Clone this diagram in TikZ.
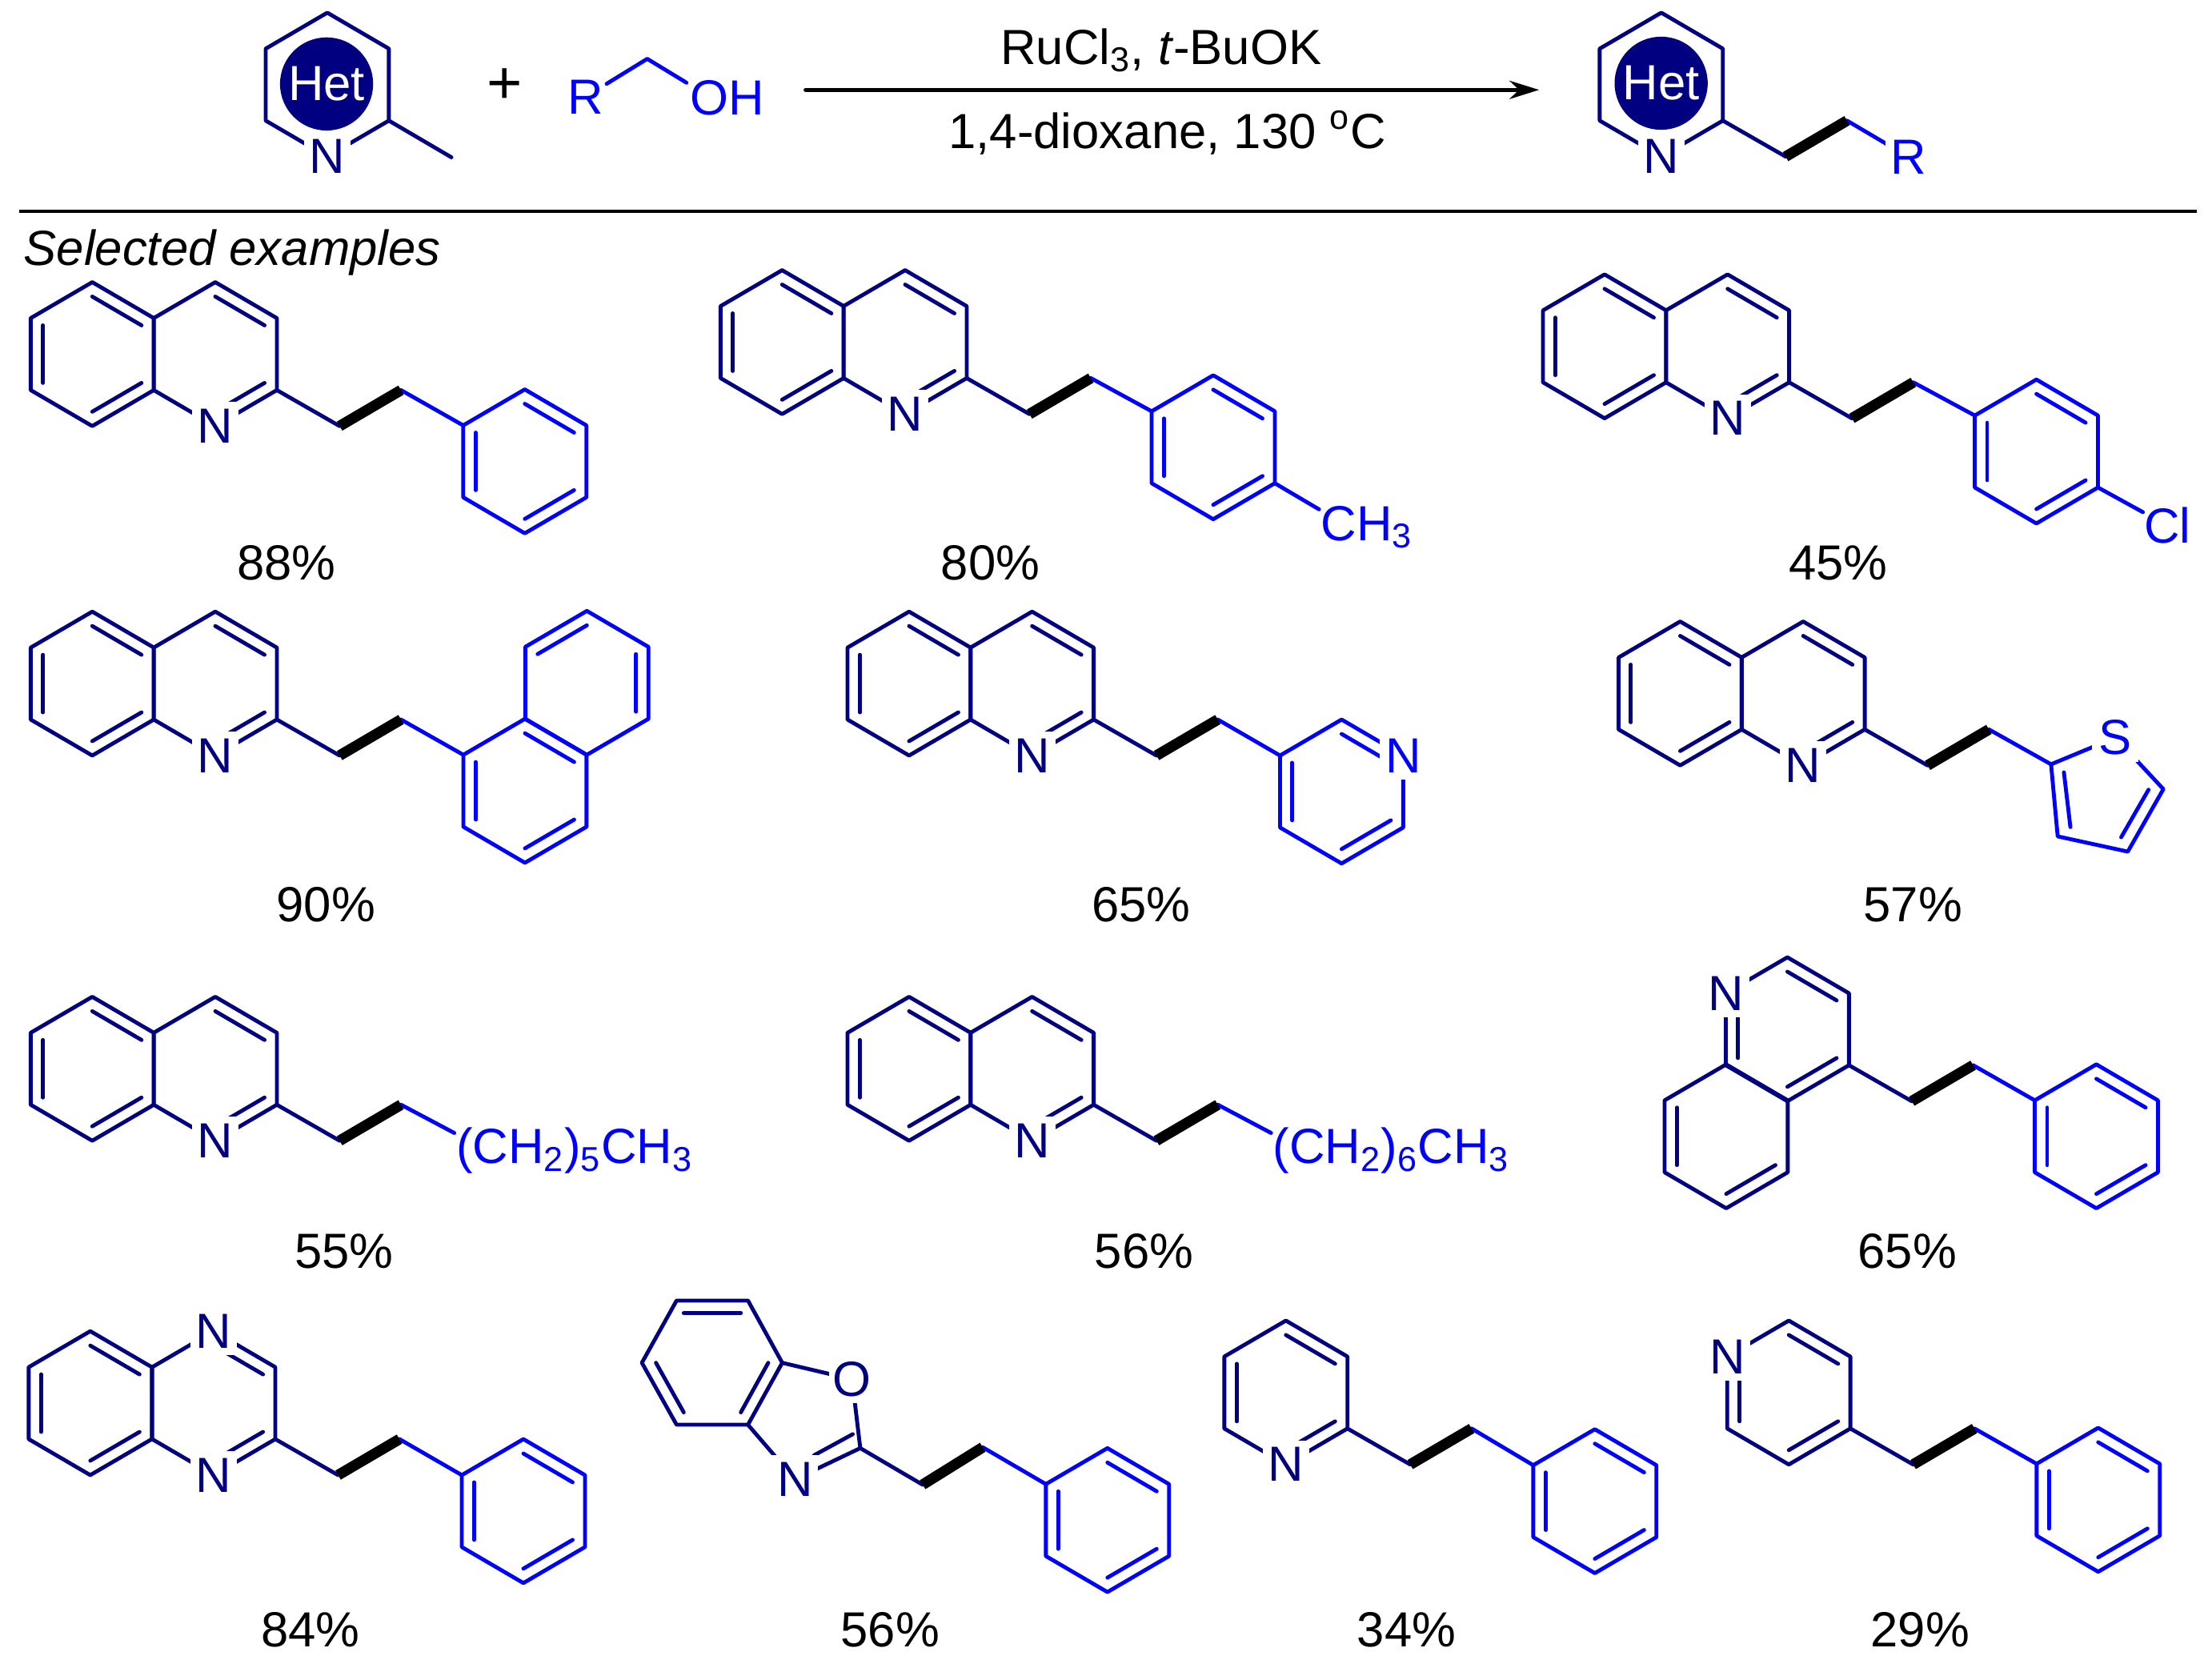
\documentclass[tikz,border=0pt]{standalone}
\usepackage{xcolor}
\usepackage{fontspec}
\usepackage{tikz}
\usetikzlibrary{arrows.meta,calc}
\setmainfont{Liberation Sans}
\definecolor{hetnavy}{RGB}{0,0,128}
\definecolor{sideblue}{RGB}{0,0,255}
\tikzset{
    atomlabel/.style={fill=white,inner sep=0pt,minimum width=6.6mm,minimum height=6.8mm},
    sidetext/.style={text=sideblue,inner sep=0pt,anchor=base west},
    yieldlabel/.style={inner sep=0pt},
    boldbond/.style={black,line width=1.5mm,line cap=butt},
    hetcircle/.style={circle,fill=hetnavy,text=white,inner sep=0pt,minimum size=13.2mm},
}
\newcommand{\hexring}[3]{
    \begin{scope}[shift={(#2)},color=#3]
    \foreach \k in {0,...,5}{
        \coordinate (#1-\k) at ({50.4*cos(-90+60*\k)},{51*sin(-90+60*\k)});
    }
    \coordinate (#1-c) at (0,0);
    \draw (#1-0) -- (#1-1) -- (#1-2) -- (#1-3) -- (#1-4) -- (#1-5) -- cycle;
    \end{scope}
}
\newcommand{\innerbond}[4]{
    \draw[#4] ($(#1)!.2!(#3)$) -- ($(#2)!.2!(#3)$);
}
\newcommand{\ring}[4]{
    \hexring{#1}{#2}{#3}
    \foreach \k/\n in {#4}{
        \innerbond{#1-\k}{#1-\n}{#1-c}{#3}
    }
}
\newcommand{\quinoline}[2]{
    \begin{scope}[shift={(#2)}]
    \ring{#1l}{-43.6,25.5}{hetnavy}{0/1,2/3,4/5}
    \ring{#1r}{43.6,25.5}{hetnavy}{0/1,2/3}
    \node[atomlabel,text=hetnavy] (#1N) at (#1r-3) {N};
    \end{scope}
}
\newcommand{\bridge}[3]{
    \coordinate (#1a) at ($(#2)+(44.5,25.5)$);
    \coordinate (#1b) at ($(#2)+(88,0)$);
    \draw[hetnavy] (#2) -- (#1a);
    \draw[sideblue] (#1b) -- (#3);
    \draw[boldbond] (#1a) -- (#1b);
}
\begin{document}
\begin{tikzpicture}[x=0.2mm,y=-0.2mm,line width=0.55mm,line cap=round,line join=round,
    font=\fontsize{19.9}{23}\selectfont]
\useasboundingbox (0,0) rectangle (1568,1182);

\hexring{reac}{232,60}{hetnavy}
\draw[hetnavy] (reac-2) -- (320,111.5);
\node[hetcircle] (hetreac) at (231.5,59.5) {Het};
\node[atomlabel,text=hetnavy] (reacN) at (reac-3) {N};
\node[inner sep=0pt] (plus) at (357.5,61) {\fontsize{24.5}{25}\selectfont +};
\coordinate (alcc) at (458.8,41.7);
\coordinate (alco) at (486.6,58.6);
\draw[sideblue] (430,59.4) -- (alcc) -- (alco);
\node[inner sep=0pt,text=sideblue] (alcR) at (415,69) {R};
\node[sidetext] (alcOH) at (488,81.5) {OH};

\coordinate (arrowa) at (571,63.7);
\coordinate (arrowb) at (1091,63.7);
\draw[-{Stealth[length=4.2mm,width=2.6mm]}] (arrowa) -- (arrowb);
\node[inner sep=0pt,anchor=base] (cond) at (823,45.4) {RuCl\textsubscript{3}, \textit{t}-BuOK};
\node[inner sep=0pt,anchor=base] (solv) at (827.5,105) {1,4-dioxane, 130 \textsuperscript{o}C};

\hexring{prod}{1177.6,60}{hetnavy}
\coordinate (prodr) at (1352.8,111.2);
\bridge{prod}{prod-2}{prodr}
\node[hetcircle] (hetprod) at (1177.5,59) {Het};
\node[atomlabel,text=hetnavy] (prodN) at (prod-3) {N};
\node[atomlabel,text=sideblue] (prodR) at (prodr) {R};

\coordinate (rulea) at (13.7,149.7);
\coordinate (ruleb) at (1557,149.7);
\draw[line width=0.48mm,line cap=butt] (rulea) -- (ruleb);
\node[inner sep=0pt,anchor=base west] (selected) at (15.5,188) {\textit{Selected examples}};

\quinoline{qa}{109,225.5}
\ring{pa}{372,327}{sideblue}{0/1,2/3,4/5}
\bridge{qa}{qar-2}{pa-5}
\node[yieldlabel] (ya) at (203,399) {88\%};

\quinoline{qb}{598,217}
\ring{pb}{860,317}{sideblue}{0/1,2/3,4/5}
\bridge{qb}{qbr-2}{pb-5}
\coordinate (meb) at (935,361);
\draw[sideblue] (pb-2) -- (meb);
\node[sidetext] (chb) at (935,383) {CH\textsubscript{3}};
\node[yieldlabel] (yb) at (702,399) {80\%};

\quinoline{qc}{1181,220}
\ring{pc}{1443.5,320}{sideblue}{0/1,2/3,4/5}
\bridge{qc}{qcr-2}{pc-5}
\coordinate (clc) at (1519,363);
\draw[sideblue] (pc-2) -- (clc);
\node[sidetext] (clab) at (1518.5,385) {Cl};
\node[yieldlabel] (yc) at (1303,399) {45\%};

\quinoline{qd}{109,459}
\ring{pd}{372.1,560.5}{sideblue}{0/1,2/3,4/5}
\ring{pu}{416,484}{sideblue}{5/0,1/2}
\bridge{qd}{qdr-2}{pd-5}
\node[yieldlabel] (yd) at (231,641) {90\%};

\quinoline{qe}{688,459}
\ring{pe}{951,561}{sideblue}{0/1,2/3,4/5}
\bridge{qe}{qer-2}{pe-5}
\node[atomlabel,text=sideblue] (peN) at (pe-1) {N};
\node[yieldlabel] (ye) at (809,641) {65\%};

\quinoline{qf}{1234.6,466}
\coordinate (tha) at (1453.9,541.7);
\coordinate (ths) at (1499.5,522.8);
\coordinate (thb) at (1533.5,559.3);
\coordinate (thc) at (1508.3,603.6);
\coordinate (thd) at (1458.6,592.8);
\draw[sideblue] (tha) -- (ths) -- (thb) -- (thc) -- (thd) -- cycle;
\draw[sideblue] (1463,547.4) -- (1467.6,586.2);
\draw[sideblue] (1523,559.7) -- (1503.6,593.4);
\bridge{qf}{qfr-2}{tha}
\node[atomlabel,text=sideblue] (thS) at (ths) {S};
\node[yieldlabel] (yf) at (1356,641) {57\%};

\quinoline{qg}{109,732}
\coordinate (gend) at (322,803);
\bridge{qg}{qgr-2}{gend}
\node[sidetext] (hexyl) at (322,824.5) {(CH\textsubscript{2})\textsubscript{5}CH\textsubscript{3}};
\node[yieldlabel] (yg) at (244,887) {55\%};

\quinoline{qh}{688,732}
\coordinate (hend) at (901,803);
\bridge{qh}{qhr-2}{hend}
\node[sidetext] (heptyl) at (901,824.5) {(CH\textsubscript{2})\textsubscript{6}CH\textsubscript{3}};
\node[yieldlabel] (yh) at (811,887) {56\%};

\ring{qiu}{1267,729.5}{hetnavy}{0/1,2/3,4/5}
\ring{qil}{1223.6,805.4}{hetnavy}{2/3,4/5}
\ring{pi}{1486,805.4}{sideblue}{0/1,2/3,4/5}
\bridge{qi}{qiu-2}{pi-5}
\node[atomlabel,text=hetnavy] (qiN) at (qiu-5) {N};
\node[yieldlabel] (yi) at (1352,887) {65\%};

\ring{qjl}{64,994.5}{hetnavy}{0/1,2/3,4/5}
\ring{qjr}{151.5,994.5}{hetnavy}{0/1,2/3}
\ring{pj}{371,1071}{sideblue}{0/1,2/3,4/5}
\bridge{qj}{qjr-2}{pj-5}
\node[atomlabel,text=hetnavy] (qjNa) at (qjr-0) {N};
\node[atomlabel,text=hetnavy] (qjNb) at (qjr-3) {N};
\node[yieldlabel] (yj) at (220,1155) {84\%};

\coordinate (boxc) at (504.9,965.9);
\coordinate (boxa) at (479.6,921.8);
\coordinate (boxb) at (530.2,921.8);
\coordinate (boxd) at (554.5,965.9);
\coordinate (boxe) at (530.2,1009.8);
\coordinate (boxf) at (479.6,1009.8);
\coordinate (boxg) at (455,965.9);
\coordinate (boxo) at (604,977.6);
\coordinate (boxn) at (563.5,1048.5);
\coordinate (boxk) at (609.8,1026.4);
\draw[hetnavy] (boxa) -- (boxb) -- (boxd) -- (boxe) -- (boxf) -- (boxg) -- cycle;
\innerbond{boxa}{boxb}{boxc}{hetnavy}
\innerbond{boxd}{boxe}{boxc}{hetnavy}
\innerbond{boxf}{boxg}{boxc}{hetnavy}
\draw[hetnavy] (boxd) -- (boxo) -- (boxk) -- (boxn) -- (boxe);
\draw[hetnavy] (604.5,1016.5) -- (577,1031.5);
\ring{pk}{785,1077.4}{sideblue}{0/1,2/3,4/5}
\coordinate (boxm) at (654,1052.3);
\coordinate (boxp) at (696.6,1025.8);
\draw[hetnavy] (boxk) -- (boxm);
\draw[sideblue] (boxp) -- (pk-5);
\draw[boldbond] (boxm) -- (boxp);
\node[atomlabel,text=hetnavy] (boxO) at (boxo) {O};
\node[atomlabel,text=hetnavy] (boxN) at (boxn) {N};
\node[yieldlabel] (yk) at (631,1155) {56\%};

\ring{ql}{911.5,987}{hetnavy}{0/1,2/3,4/5}
\ring{pl}{1130.5,1064}{sideblue}{0/1,2/3,4/5}
\bridge{ql}{ql-2}{pl-5}
\node[atomlabel,text=hetnavy] (qlN) at (ql-3) {N};
\node[yieldlabel] (yl) at (997,1155) {34\%};

\ring{qm}{1268,987}{hetnavy}{0/1,2/3,4/5}
\ring{pm}{1487.3,1063}{sideblue}{0/1,2/3,4/5}
\bridge{qm}{qm-2}{pm-5}
\node[atomlabel,text=hetnavy] (qmN) at (qm-5) {N};
\node[yieldlabel] (ym) at (1361,1155) {29\%};
\end{tikzpicture}
\end{document}
